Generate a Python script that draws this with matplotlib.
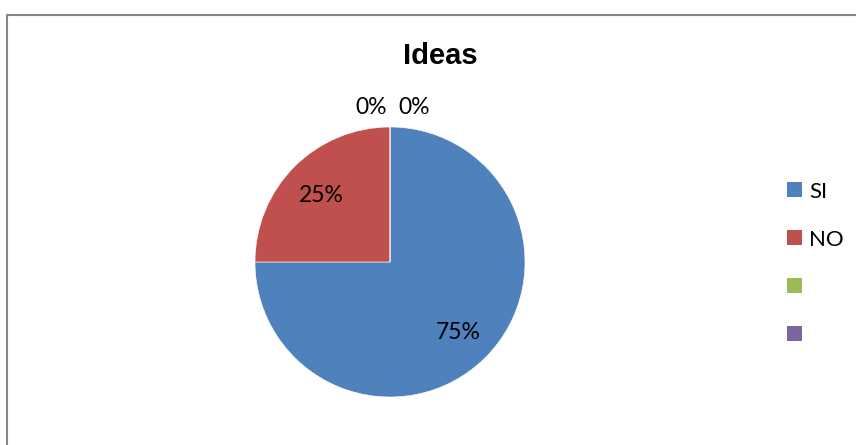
import numpy as np
import matplotlib
matplotlib.use("Agg")
import matplotlib.pyplot as plt
from matplotlib.patches import Rectangle

# === Données ===
categorias = ['SI', 'NO', '', '']
valores = [75, 25, 0, 0]
etiquetas = ['75%', '25%', '0%', '0%']
colores = ['#4F81BD', '#C0504D', '#9BBB59', '#8064A2']
titulo = 'Ideas'

W, H = 856, 445
fig = plt.figure(figsize=(W / 100, H / 100), dpi=100)
fig.patch.set_facecolor('white')

def fx(px):
    return px / W

def fy(py):
    return 1 - py / H

# cadre du graphique (coupé à droite et en bas)
fig.add_artist(Rectangle((fx(6.5), -0.1), 2, fy(15.5) + 0.1, transform=fig.transFigure,
                         fill=False, edgecolor='#878787', linewidth=1.5))

# camembert : centre (390, 262), rayon 135 px
ax = fig.add_axes([fx(255), fy(397), 270 / W, 270 / H])
wedges, _ = ax.pie(valores, colors=colores, startangle=90, counterclock=False,
                   wedgeprops=dict(edgecolor='white', linewidth=0.4))
ax.set_xlim(-1, 1)
ax.set_ylim(-1, 1)
ax.axis('off')

font_lbl = ['Lato', 'DejaVu Sans']
for i, (w, txt) in enumerate(zip(wedges, etiquetas)):
    mid = np.deg2rad((w.theta1 + w.theta2) / 2)
    if valores[i] > 0:
        r = 0.715
        x, y = r * np.cos(mid), r * np.sin(mid)
    else:
        # étiquettes des parts nulles, au-dessus du sommet
        x = 1.16 * np.cos(mid) + (-0.14 if i == 2 else 0.175)
        y = 1.16 * np.sin(mid)
    ax.text(x, y, txt, ha='center', va='center_baseline', fontsize=16.5,
            family=font_lbl, color='black', clip_on=False)

# titre
fig.text(fx(440), fy(64), titulo, ha='center', va='baseline', fontsize=21,
         fontweight='bold', family=['Liberation Sans', 'DejaVu Sans'])

# légende
for i, (w, cat) in enumerate(zip(wedges, categorias)):
    yc = 189.5 + 48 * i
    fig.add_artist(Rectangle((fx(787), fy(yc + 7.5)), 15 / W, 15 / H,
                             transform=fig.transFigure, facecolor=w.get_facecolor(),
                             edgecolor='none'))
    if cat:
        fig.text(fx(809), fy(yc), cat, ha='left', va='center_baseline', fontsize=16,
                 family=font_lbl)

fig.savefig('out.png', dpi=100, facecolor='white')
